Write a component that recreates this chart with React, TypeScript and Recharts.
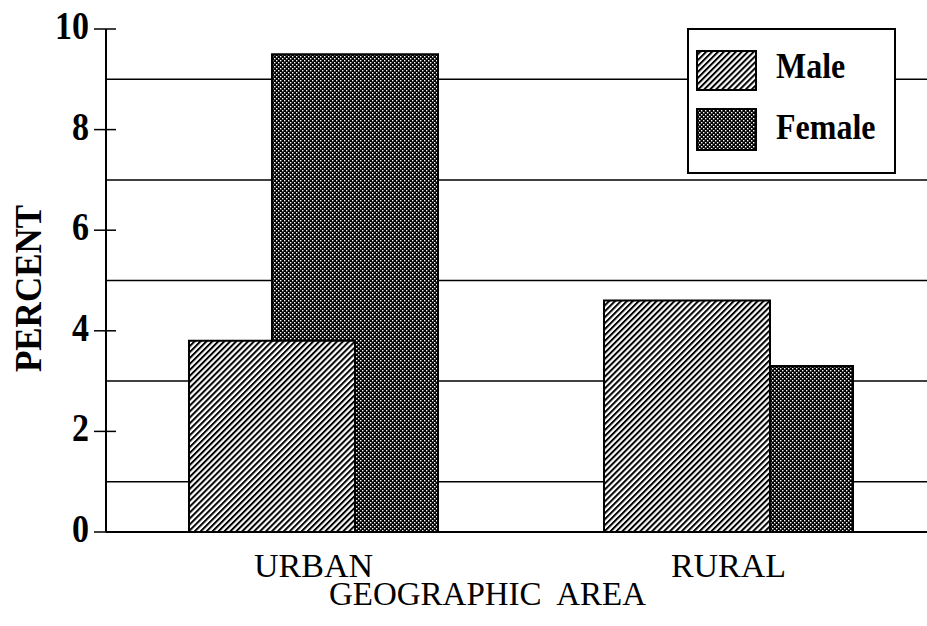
import React from 'react';
import { BarChart, Bar, XAxis, YAxis, CartesianGrid, Legend } from 'recharts';

const categories = ['URBAN', 'RURAL'];
const maleValues = [3.8, 4.6];
const femaleValues = [9.5, 3.3];
const yTicks = [0, 2, 4, 6, 8, 10];
const gridValues = [1, 3, 5, 7, 9];
const yMax = 10;
const legendNames = ['Male', 'Female'];
const xTitle = 'GEOGRAPHIC  AREA';
const yTitle = 'PERCENT';

const data = categories.map((c, i) => ({ area: c, Male: maleValues[i], Female: femaleValues[i] }));

const FONT = '"Liberation Serif", "Times New Roman", serif';
const fills: Record<string, string> = { Male: 'url(#hatchMale)', Female: 'url(#dotFemale)' };

const gridGenerator = (args: any) => {
  const { yAxis, offset } = args || {};
  if (yAxis && typeof yAxis.scale === 'function') {
    return gridValues.map((v) => yAxis.scale(v));
  }
  return gridValues.map((v) => offset.top + offset.height * (1 - v / yMax));
};

const YTick = (props: any) => {
  const { x, y, payload } = props;
  return (
    <g>
      <line x1={x - 12} x2={x + 10} y1={y} y2={y} stroke="#000" strokeWidth={1.5} />
      <text
        x={0}
        y={0}
        transform={`translate(${x - 17}, ${y + 10}) scale(1, 1.17)`}
        textAnchor="end"
        fontFamily={FONT}
        fontWeight="bold"
        fontSize={34}
        fill="#000"
      >
        {payload.value}
      </text>
    </g>
  );
};

const XTick = (props: any) => {
  const { x, y, payload } = props;
  return (
    <text x={x} y={y + 45} textAnchor="middle" fontFamily={FONT} fontSize={34} fill="#000">
      {payload.value}
    </text>
  );
};

const XTitle = (props: any) => {
  const vb = props.viewBox;
  return (
    <text
      x={vb.x + vb.width / 2 - 29}
      y={vb.y + 73}
      textAnchor="middle"
      fontFamily={FONT}
      fontSize={33}
      fill="#000"
      style={{ whiteSpace: 'pre' }}
    >
      {xTitle}
    </text>
  );
};

const YTitle = (props: any) => {
  const vb = props.viewBox;
  const cy = vb.y + vb.height / 2 + 8;
  return (
    <text
      x={0}
      y={0}
      transform={`translate(41, ${cy}) rotate(-90) scale(1, 1.08)`}
      textAnchor="middle"
      fontFamily={FONT}
      fontWeight="bold"
      fontSize={35}
      fill="#000"
    >
      {yTitle}
    </text>
  );
};

const LegendBox = () => (
  <svg width={210} height={147} style={{ display: 'block', overflow: 'visible' }}>
    <rect x={1} y={1} width={207} height={144} fill="#fff" stroke="#000" strokeWidth={2} />
    {legendNames.map((n, i) => (
      <g key={n}>
        <rect
          x={10}
          y={i === 0 ? 23 : 81}
          width={59}
          height={i === 0 ? 39 : 41}
          fill={fills[n]}
          stroke="#000"
          strokeWidth={2}
        />
        <text
          x={0}
          y={0}
          transform={`translate(89, ${i === 0 ? 50 : 111}) scale(1, 1.1)`}
          fontFamily={FONT}
          fontWeight="bold"
          fontSize={32}
          fill="#000"
        >
          {n}
        </text>
      </g>
    ))}
  </svg>
);

export default function App() {
  return (
    <div style={{ position: 'absolute', left: 0, top: 0, width: 927, height: 626, background: '#fff' }}>
      <BarChart
        width={927}
        height={626}
        data={data}
        margin={{ top: 29, right: 0, bottom: 0, left: 0 }}
        barSize={166}
        barGap={-249}
      >
        <defs>
          <pattern id="hatchMale" patternUnits="userSpaceOnUse" width={4.2} height={4.2} patternTransform="rotate(45)">
            <rect x={0} y={0} width={4.2} height={4.2} fill="#fff" />
            <rect x={0} y={0} width={2} height={4.2} fill="#000" />
          </pattern>
          <pattern id="dotFemale" patternUnits="userSpaceOnUse" width={4} height={4}>
            <rect x={0} y={0} width={4} height={4} fill="#000" />
            <rect x={0} y={0} width={1.4} height={1.4} fill="#fff" />
            <rect x={2} y={2} width={1.4} height={1.4} fill="#fff" />
          </pattern>
        </defs>
        <CartesianGrid
          vertical={false}
          horizontalCoordinatesGenerator={gridGenerator}
          stroke="#000"
          strokeWidth={1.5}
        />
        <XAxis
          dataKey="area"
          height={94}
          tickLine={false}
          tickSize={0}
          tickMargin={0}
          axisLine={{ stroke: '#000', strokeWidth: 2 }}
          tick={<XTick />}
          padding={{ left: 0, right: -9 }}
          label={<XTitle />}
        />
        <YAxis
          width={106}
          domain={[0, yMax]}
          ticks={yTicks}
          tickLine={false}
          tickSize={0}
          tickMargin={0}
          axisLine={{ stroke: '#000', strokeWidth: 2 }}
          tick={<YTick />}
          label={<YTitle />}
          interval={0}
        />
        <Bar dataKey="Female" fill="url(#dotFemale)" stroke="#000" strokeWidth={2} isAnimationActive={false} />
        <Bar dataKey="Male" fill="url(#hatchMale)" stroke="#000" strokeWidth={2} isAnimationActive={false} />
        <Legend
          content={<LegendBox />}
          layout="horizontal"
          verticalAlign="middle"
          align="center"
          wrapperStyle={{ position: 'absolute', left: 687, top: 28, width: 210, height: 147 }}
        />
      </BarChart>
    </div>
  );
}
